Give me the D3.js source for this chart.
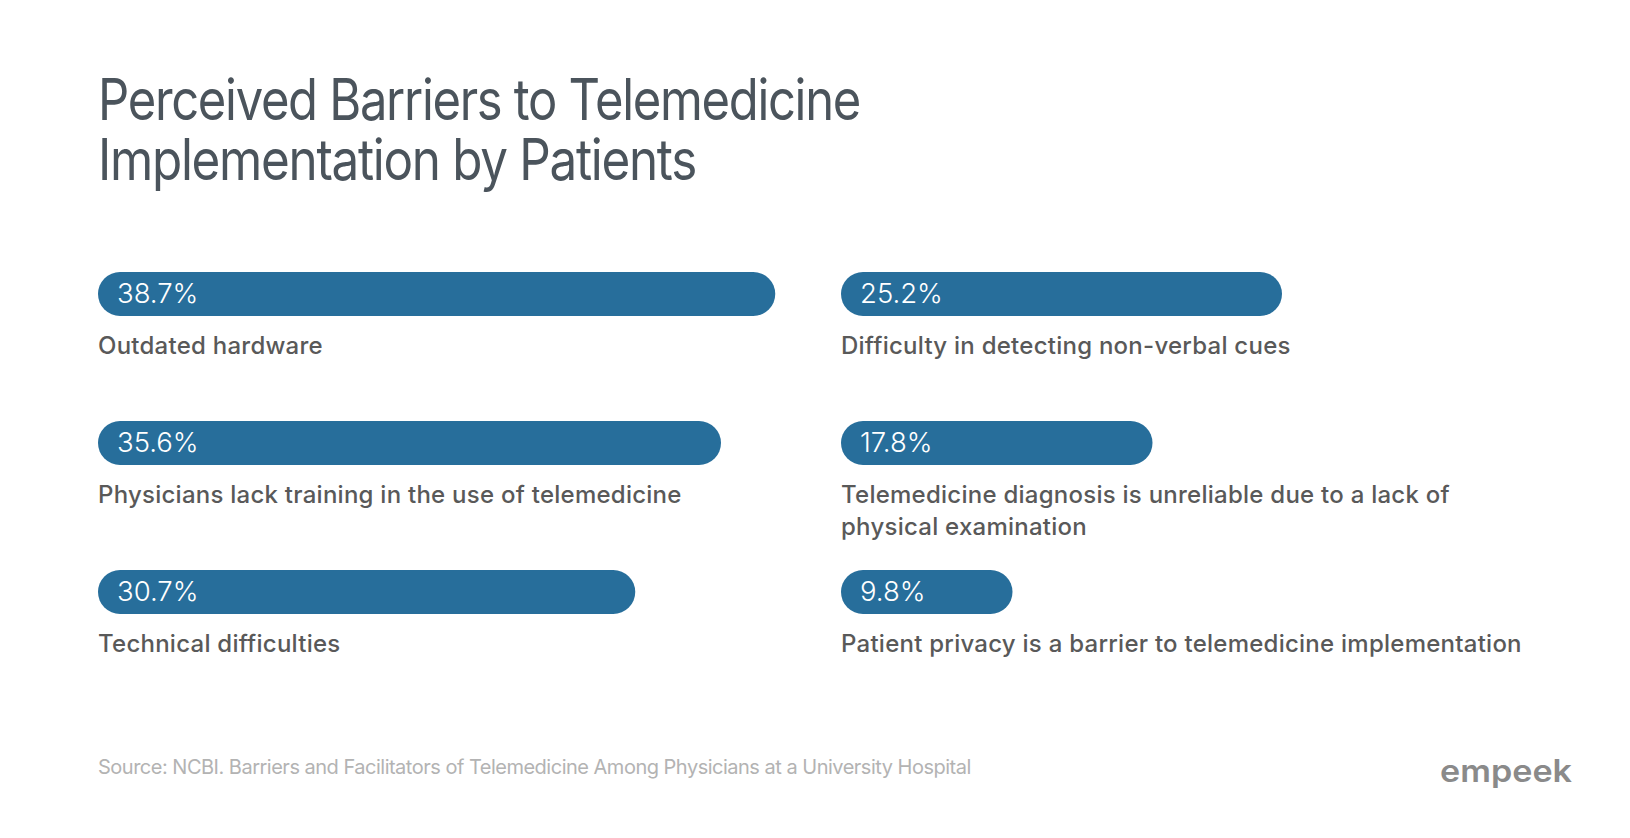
<!DOCTYPE html>
<html>
<head>
<meta charset="utf-8">
<script src="https://cdn.jsdelivr.net/npm/d3@7"></script>
<style>
  html, body { margin: 0; padding: 0; background: #fff; }
  svg { display: block; }
</style>
</head>
<body>
<div id="chart"></div>
<script>
// Chart data
const titleLines = ["Perceived Barriers to Telemedicine", "Implementation by Patients"];
const categories = [
    "Outdated hardware",
    "Physicians lack training in the use of telemedicine",
    "Technical difficulties",
    "Difficulty in detecting non-verbal cues",
    "Telemedicine diagnosis is unreliable due to a lack of\nphysical examination",
    "Patient privacy is a barrier to telemedicine implementation"
];
const values = [38.7, 35.6, 30.7, 25.2, 17.8, 9.8];
const sourceText = "Source: NCBI. Barriers and Facilitators of Telemedicine Among Physicians at a University Hospital";
const brand = "empeek";

const width = 1630, height = 838;
const barColor = "#276e9b";
// title is set in a narrow grotesque, squeeze Inter to the same line widths
const titleWidths = [762, 598];

const svg = d3.select('#chart')
    .append('svg')
    .attr('width', width)
    .attr('height', height);

svg.append('rect').attr('width', width).attr('height', height).attr('fill', '#fff');

// Title
svg.append('g')
    .selectAll('text')
    .data(titleLines)
    .enter()
    .append('text')
    .attr('x', 98)
    .attr('y', (d, i) => 120 + i * 60)
    .attr('font-family', 'Inter, sans-serif')
    .attr('font-size', 57)
    .attr('font-weight', 400)
    .attr('letter-spacing', -1.5)
    .attr('textLength', (d, i) => titleWidths[i])
    .attr('lengthAdjust', 'spacingAndGlyphs')
    .attr('fill', '#4b545c')
    .text(d => d);

// Layout: two columns of three rows
const rowsPerCol = 3;
const barHeight = 44;
const x = d3.scaleLinear().domain([0, 40]).range([0, 700]);
const colX = d3.scaleOrdinal().domain([0, 1]).range([98, 841]);
const rowY = d3.scaleLinear().domain([0, 1]).range([272, 421]);

const items = values.map((v, i) => ({
    value: v,
    label: categories[i],
    col: Math.floor(i / rowsPerCol),
    row: i % rowsPerCol
}));

const groups = svg.append('g')
    .selectAll('g')
    .data(items)
    .enter()
    .append('g')
    .attr('transform', d => `translate(${colX(d.col)}, ${rowY(d.row)})`);

// Pill bars
groups.append('rect')
    .attr('width', d => x(d.value))
    .attr('height', barHeight)
    .attr('rx', barHeight / 2)
    .attr('fill', barColor);

// Value labels
const fmt = d3.format('.1f');
groups.append('text')
    .attr('x', 19)
    .attr('y', 30.5)
    .attr('font-family', 'Inter, sans-serif')
    .attr('font-size', 27.5)
    .attr('font-weight', 300)
    .attr('letter-spacing', 0)
    .attr('fill', '#fff')
    .text(d => fmt(d.value) + '%');

// Category labels (manual line breaks)
groups.append('text')
    .attr('font-family', 'Inter, sans-serif')
    .attr('font-size', 24)
    .attr('font-weight', 500)
    .attr('letter-spacing', 0.25)
    .attr('fill', '#595959')
    .selectAll('tspan')
    .data(d => d.label.split('\n'))
    .enter()
    .append('tspan')
    .attr('x', 0)
    .attr('y', (d, i) => 82 + i * 32)
    .text(d => d);

// Footer
svg.append('text')
    .attr('x', 98)
    .attr('y', 774)
    .attr('font-family', 'Inter, sans-serif')
    .attr('font-size', 20)
    .attr('letter-spacing', -0.5)
    .attr('fill', '#b3b3b3')
    .text(sourceText);

svg.append('text')
    .attr('x', 1440)
    .attr('y', 782)
    .attr('font-family', 'Inter, sans-serif')
    .attr('font-size', 31)
    .attr('font-weight', 600)
    .attr('textLength', 132)
    .attr('lengthAdjust', 'spacingAndGlyphs')
    .attr('fill', '#8a8a8a')
    .text(brand);
</script>
</body>
</html>
